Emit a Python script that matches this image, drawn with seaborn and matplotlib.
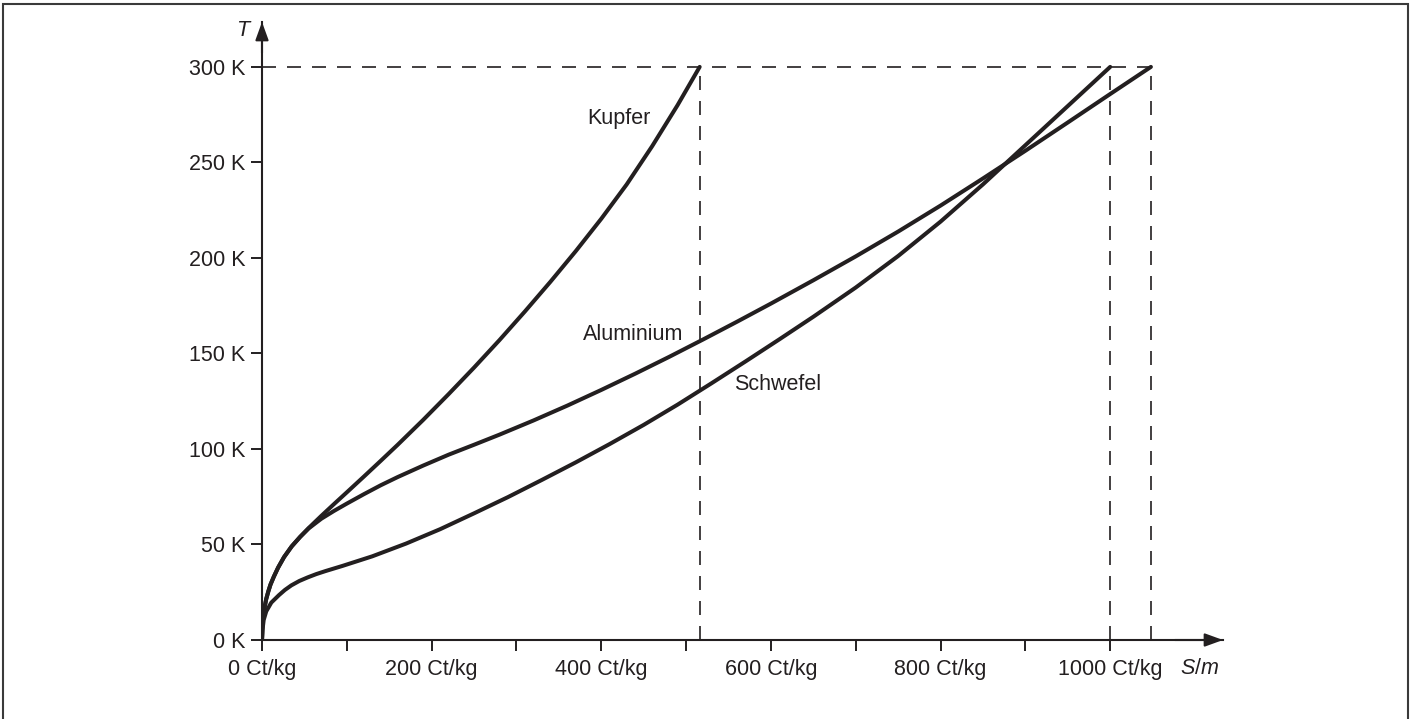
import numpy as np
import pandas as pd
import matplotlib
matplotlib.use("Agg")
import matplotlib.pyplot as plt
from matplotlib.patches import Rectangle
import seaborn as sns

# Entropie pro Masse S/m (Ct/kg) gegen Temperatur T (K)
kupfer_s = [0, 0.5, 1.5, 3, 5, 7.5, 10, 14, 19, 26, 35, 45, 55, 70, 85, 100,
            120, 140, 160, 190, 220, 250, 280, 310, 340, 370, 400, 430, 460,
            490, 516]
kupfer_t = [0, 7, 12, 17, 21.5, 25.5, 29, 33.2, 37.9, 43.4, 49, 54, 58.6, 65,
            71.2, 77.3, 85.5, 93.8, 102.2, 115.2, 128.7, 142.6, 157, 172, 187.5,
            203.6, 220.5, 238.5, 258.5, 280, 300]

alu_s = [0, 0.5, 1.5, 3, 5, 7.5, 10, 14, 19, 26, 35, 45, 55, 70, 85, 100, 120,
         140, 160, 190, 220, 250, 280, 320, 360, 400, 440, 480, 520, 560, 600,
         650, 700, 750, 800, 850, 900, 950, 1000, 1048]
alu_t = [0, 7, 12, 17, 21.5, 25.5, 29, 33.2, 37.9, 43.4, 49, 54, 58.4, 63.5,
         67.6, 71.4, 76.3, 81, 85.3, 91.3, 97, 102.2, 107.5, 114.9, 122.7,
         130.9, 139.4, 148.2, 157.3, 166.6, 176.1, 188.3, 200.8, 213.8, 227.4,
         241.6, 256.1, 270.9, 285.8, 300]

schwefel_s = [0, 0.5, 2, 5, 11, 20, 27, 34.6, 44, 54, 64, 75, 95, 130, 170,
              210, 250, 290, 330, 370, 410, 450, 490, 530, 570, 610, 650, 700,
              750, 800, 850, 900, 950, 1000]
schwefel_t = [0, 5, 10.5, 15, 19.6, 23.5, 26.2, 28.6, 30.9, 32.8, 34.5, 36.1,
              38.8, 43.8, 50.5, 58, 66.3, 74.8, 83.8, 93, 102.6, 112.6, 123.2,
              134.4, 145.8, 157.4, 169.2, 184.5, 201, 219, 238.5, 259, 279.5,
              300]

x_ticks = [0, 100, 200, 300, 400, 500, 600, 700, 800, 900, 1000]
x_ticklabels = ["0 Ct/kg", "", "200 Ct/kg", "", "400 Ct/kg", "", "600 Ct/kg",
                "", "800 Ct/kg", "", "1000 Ct/kg"]
y_ticks = [0, 50, 100, 150, 200, 250, 300]
y_ticklabels = ["0 K", "50 K", "100 K", "150 K", "200 K", "250 K", "300 K"]

t_room = 300
s_end = [516, 1000, 1048]

ink = "#231f20"
fs = 15.5

sns.set_theme(style="white")
plt.rcParams['font.family'] = ['Liberation Sans', 'DejaVu Sans']
plt.rcParams['mathtext.fontset'] = 'custom'
plt.rcParams['mathtext.it'] = 'Liberation Sans:italic'
plt.rcParams['mathtext.rm'] = 'Liberation Sans'

W, H = 1412, 719
fig = plt.figure(figsize=(W / 100, H / 100), dpi=100)
ax = fig.add_axes([262 / W, (H - 640) / H, (1223 - 262) / W, (640 - 22) / H])
ax.set_xlim(0, 1133)
ax.set_ylim(0, 323.5)

df = pd.concat([
    pd.DataFrame({"S": kupfer_s, "T": kupfer_t, "Stoff": "Kupfer"}),
    pd.DataFrame({"S": alu_s, "T": alu_t, "Stoff": "Aluminium"}),
    pd.DataFrame({"S": schwefel_s, "T": schwefel_t, "Stoff": "Schwefel"}),
])

# Hilfslinien (gestrichelt)
dash_kw = dict(color=ink, lw=1.2, dashes=(8.4, 6.6), zorder=2)
ax.plot([0, max(s_end)], [t_room, t_room], **dash_kw)
for s in s_end:
    ax.plot([s, s], [0, t_room], **dash_kw)

sns.lineplot(data=df, x="S", y="T", units="Stoff", estimator=None, sort=False,
             color=ink, lw=2.9, ax=ax, zorder=3, solid_capstyle="round",
             solid_joinstyle="round")

ax.text(384, 273, "Kupfer", fontsize=fs, color=ink, va="center")
ax.text(378, 160, "Aluminium", fontsize=fs, color=ink, va="center")
ax.text(557, 133.5, "Schwefel", fontsize=fs, color=ink, va="center")

# Achsen
for side in ["top", "right"]:
    ax.spines[side].set_visible(False)
for side in ["left", "bottom"]:
    ax.spines[side].set_color(ink)
    ax.spines[side].set_linewidth(1.5)
    ax.spines[side].set_zorder(4)

ax.set_xticks(x_ticks, x_ticklabels)
ax.set_yticks(y_ticks, y_ticklabels)
ax.tick_params(axis="both", direction="out", length=7.8, width=1.4,
               color=ink, labelcolor=ink, labelsize=fs,
               bottom=True, left=True)
ax.tick_params(axis="x", pad=6)
ax.tick_params(axis="y", pad=4)
ax.set_xlabel("")
ax.set_ylabel("")
ax.grid(False)

arrow = dict(arrowstyle="-|>,head_length=0.55,head_width=0.2", color=ink,
             lw=1.5, mutation_scale=20, shrinkA=0, shrinkB=0)
ax.annotate("", xy=(1, 0), xytext=(0.95, 0), xycoords="axes fraction",
            arrowprops=arrow, annotation_clip=False)
ax.annotate("", xy=(0, 1), xytext=(0, 0.95), xycoords="axes fraction",
            arrowprops=arrow, annotation_clip=False)

fig.text(243 / W, 1 - 31 / H, "T", fontsize=fs, style="italic", color=ink,
         ha="center", va="center")
fig.text(1180 / W, 1 - 669 / H, r"$S$/$m$", fontsize=fs, color=ink,
         ha="left", va="center")

# Rahmen
fig.add_artist(Rectangle((3 / W, -0.05), (1408 - 3) / W, 1.05 - 4 / H,
                         transform=fig.transFigure, fill=False,
                         edgecolor="#3a3a3a", lw=1.5))

fig.savefig("out.png", dpi=100)
